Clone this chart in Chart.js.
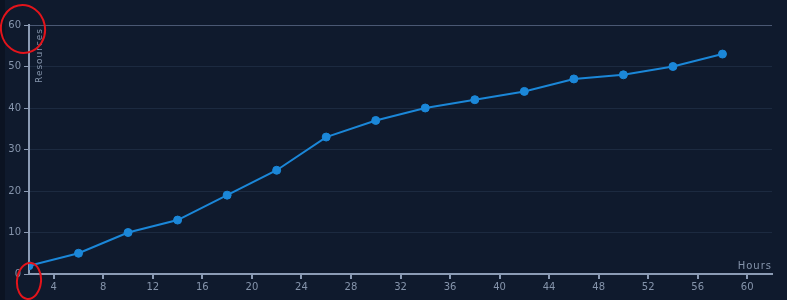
<!DOCTYPE html>
<html>
<head>
<meta charset="utf-8">
<script src="https://cdn.jsdelivr.net/npm/chart.js@4"></script>
<style>
  html, body { margin: 0; padding: 0; background: #0f1a2d; }
  #wrap { width: 787px; height: 300px; }
</style>
</head>
<body>
<div id="wrap"><canvas id="chart"></canvas></div>
<script>
// data
const hours = [2, 6, 10, 14, 18, 22, 26, 30, 34, 38, 42, 46, 50, 54, 58];
const resources = [2, 5, 10, 13, 19, 25, 33, 37, 40, 42, 44, 47, 48, 50, 53];
const xTicks = [4, 8, 12, 16, 20, 24, 28, 32, 36, 40, 44, 48, 52, 56, 60];
const yTicks = [0, 10, 20, 30, 40, 50, 60];

const axisColor = "#8b9bb4";
const labelColor = "#8594ab";

// background, axis titles inside the plot and the red hand marks
const extras = {
  id: "extras",
  beforeDraw(chart) {
    const c = chart.ctx;
    c.save();
    c.fillStyle = "#0f1a2d";
    c.fillRect(0, 0, chart.width, chart.height);
    c.fillStyle = "#0b1322";
    c.fillRect(0, 0, 5, chart.height);
    c.restore();
  },
  afterDraw(chart) {
    const c = chart.ctx;
    const a = chart.chartArea;
    c.save();
    c.fillStyle = labelColor;
    c.font = "10px 'DejaVu Sans'";
    if ("letterSpacing" in c) c.letterSpacing = "1px";
    c.textAlign = "right";
    c.textBaseline = "alphabetic";
    c.fillText("Hours", a.right, a.bottom - 5);
    c.font = "9px 'DejaVu Sans'";
    c.translate(a.left + 13, a.top + 3);
    c.rotate(-Math.PI / 2);
    c.textAlign = "right";
    c.fillText("Resources", 0, 0);
    c.restore();

    c.save();
    c.strokeStyle = "#e3141b";
    c.lineWidth = 2;
    c.beginPath();
    c.ellipse(23, 29, 22, 24, -0.2, 0, Math.PI * 2);
    c.stroke();
    c.beginPath();
    c.ellipse(29, 281, 12, 18, 0.1, 0, Math.PI * 2);
    c.stroke();
    c.restore();
  }
};

new Chart(document.getElementById("chart"), {
  type: "line",
  data: {
    datasets: [{
      data: hours.map((h, i) => ({ x: h, y: resources[i] })),
      borderColor: "#1b87d8",
      backgroundColor: "#1b87d8",
      borderWidth: 2,
      pointRadius: 4,
      pointBorderWidth: 1,
      pointHoverRadius: 4,
      tension: 0
    }]
  },
  options: {
    responsive: true,
    maintainAspectRatio: false,
    animation: false,
    layout: { padding: { top: 25, right: 15, left: 0, bottom: 0 } },
    plugins: { legend: { display: false }, tooltip: { enabled: false } },
    scales: {
      x: {
        type: "linear",
        min: 2,
        max: 62,
        afterBuildTicks(scale) { scale.ticks = xTicks.map(v => ({ value: v })); },
        afterFit(scale) { scale.height = 26; },
        border: { color: axisColor, width: 2 },
        grid: { drawOnChartArea: false, drawTicks: true, tickLength: 5, tickColor: axisColor, lineWidth: 2 },
        ticks: { color: labelColor, font: { size: 10, family: "'DejaVu Sans'" }, padding: 2, maxRotation: 0 }
      },
      y: {
        min: 0,
        max: 60,
        afterBuildTicks(scale) { scale.ticks = yTicks.map(v => ({ value: v })); },
        afterFit(scale) { scale.width = 29; },
        border: { color: axisColor, width: 2 },
        grid: {
          color: ctx => ctx.tick && ctx.tick.value === 60 ? "#4a5873" : "#1c2a40",
          tickColor: axisColor,
          tickLength: 5,
          lineWidth: 1
        },
        ticks: { color: labelColor, font: { size: 10, family: "'DejaVu Sans'" }, padding: 3 }
      }
    }
  },
  plugins: [extras]
});
</script>
</body>
</html>
